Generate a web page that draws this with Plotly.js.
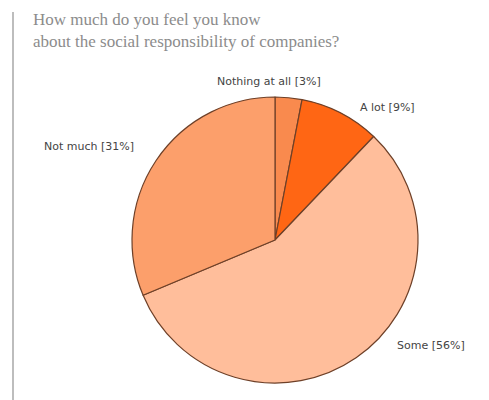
<!DOCTYPE html>
<html>
<head>
<meta charset="utf-8">
<script src="https://cdn.plot.ly/plotly-3.0.1.min.js"></script>
<style>html,body{margin:0;padding:0;background:#fff;}#chart{width:489px;height:400px;}</style>
</head>
<body>
<div id="chart"></div>
<script>
const categories = ["Nothing at all", "A lot", "Some", "Not much"];
const values = [3, 9, 56, 31];
const sliceColors = ["#F98A4E", "#FF6614", "#FFBE9B", "#FC9F6B"];
const titleText = "How much do you feel you know<br>about the social responsibility of companies?";
const labelText = categories.map((c, i) => c + " [" + values[i] + "%]");
const labelPos = [[215, 82], [358, 107], [395, 345], [42, 146]]; // pixel anchor of each label (left, middle)

const W = 489, H = 400;
const cx = 275, cy = 240, r = 143;

const trace = {
  type: "pie",
  labels: categories,
  values: values,
  sort: false,
  direction: "clockwise",
  rotation: 0,
  textinfo: "none",
  hoverinfo: "label+percent",
  marker: { colors: sliceColors, line: { color: "#6e4028", width: 1.2 } },
  domain: { x: [(cx - r) / W, (cx + r) / W], y: [(H - cy - r) / H, (H - cy + r) / H] },
  showlegend: false
};

const annotations = labelText.map((t, i) => ({
  text: t,
  xref: "paper", yref: "paper",
  x: labelPos[i][0] / W, y: 1 - labelPos[i][1] / H,
  xanchor: "left", yanchor: "middle",
  showarrow: false,
  font: { family: "DejaVu Sans", size: 11, color: "#444444" }
}));

annotations.push({
  text: titleText,
  xref: "paper", yref: "paper",
  x: 31 / W, y: 1 - 8 / H,
  xanchor: "left", yanchor: "top", align: "left",
  showarrow: false,
  font: { family: "Liberation Serif", size: 17, color: "#8c8c8c" }
});

const layout = {
  width: W, height: H,
  margin: { l: 0, r: 0, t: 0, b: 0 },
  paper_bgcolor: "#ffffff",
  annotations: annotations,
  shapes: [{
    type: "line", xref: "paper", yref: "paper",
    x0: 13 / W, x1: 13 / W, y0: 0, y1: 1 - 12 / H,
    line: { color: "#bdbdbd", width: 2 }
  }]
};

Plotly.newPlot("chart", [trace], layout, { displayModeBar: false, staticPlot: true });
</script>
</body>
</html>
